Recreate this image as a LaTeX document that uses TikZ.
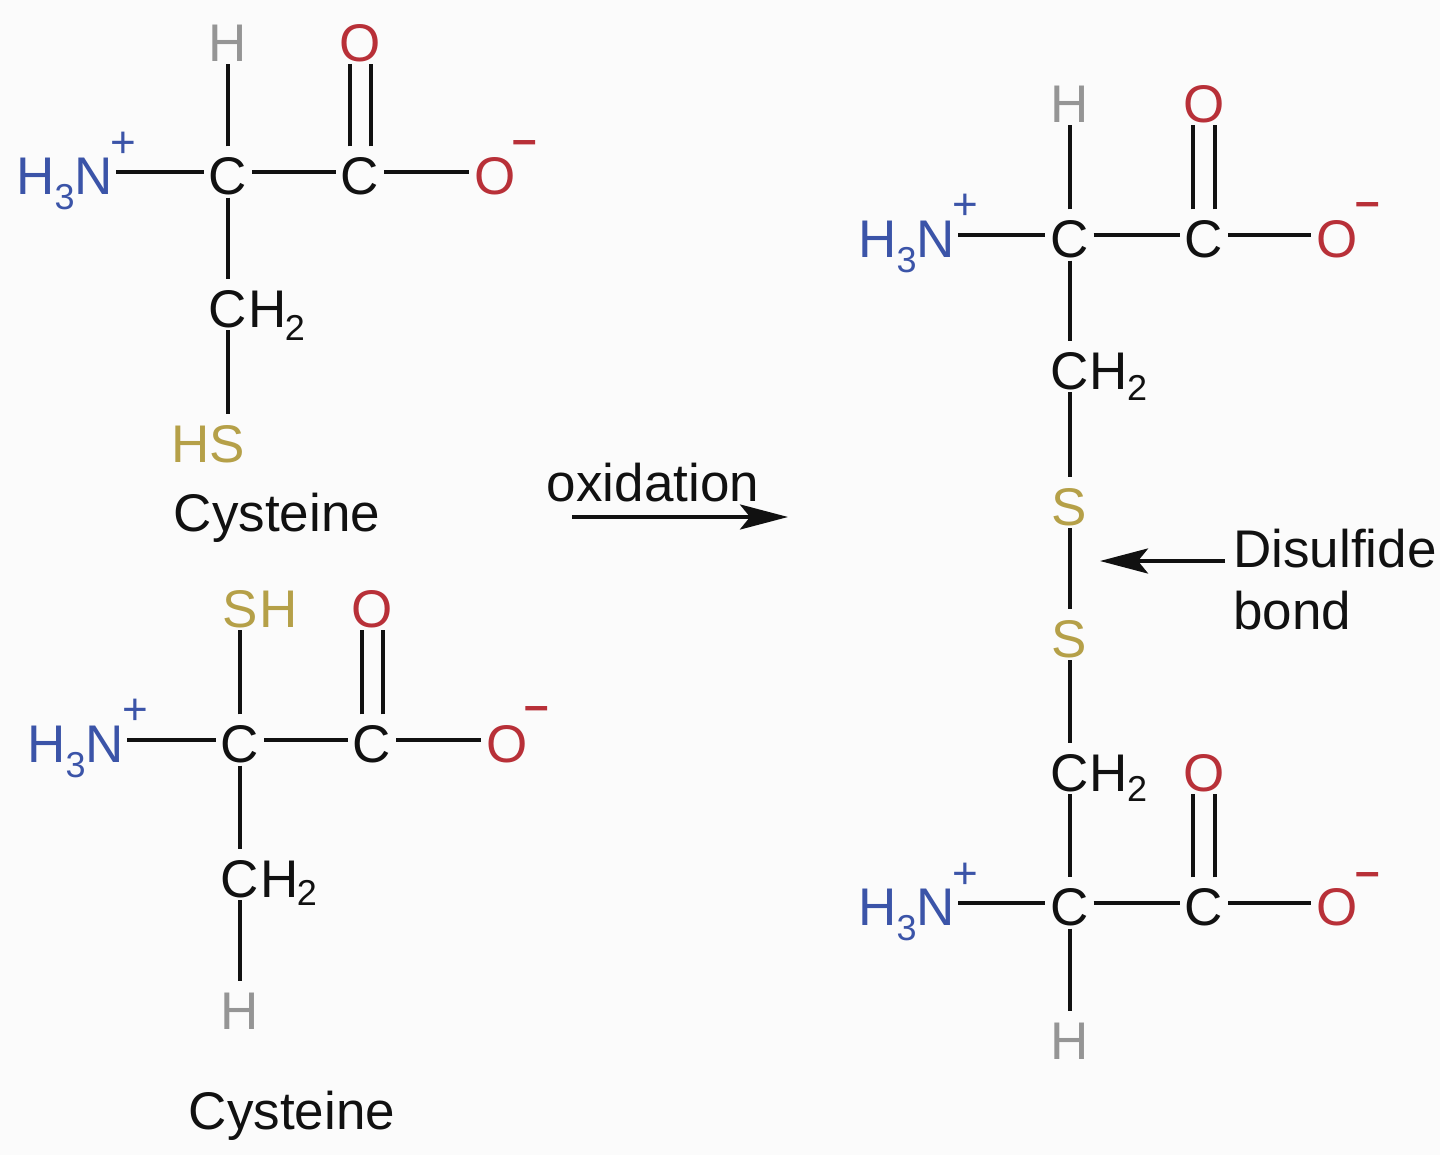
\documentclass[tikz,border=0pt]{standalone}
\usepackage{fontspec}
\setmainfont{Liberation Sans}
\usetikzlibrary{arrows.meta}
\definecolor{nblue}{HTML}{3B54A8}
\definecolor{ored}{HTML}{B83038}
\definecolor{syel}{HTML}{B5A048}
\definecolor{hgrey}{HTML}{959595}
\definecolor{ink}{HTML}{111111}
\definecolor{paper}{HTML}{FBFBFB}
\newcommand{\lowtwo}[1]{\raisebox{-0.28em}{\fontsize{18}{20}\selectfont #1}}
\tikzset{
  atom/.style={inner sep=0pt,outer xsep=2.5pt,outer ysep=1.5pt,text height=22.7pt,text depth=0pt,font=\fontsize{26.5}{30}\selectfont,text=ink},
  nit/.style={atom,text=nblue,anchor=east,outer xsep=1.5pt},
  oxy/.style={atom,text=ored},
  sul/.style={atom,text=syel},
  hyd/.style={atom,text=hgrey},
  chgp/.style={inner sep=0pt,font=\fontsize{22}{24}\selectfont,text=nblue},
  chgm/.style={inner sep=0pt,font=\fontsize{22}{24}\selectfont\bfseries,text=ored},
  sub2/.style={inner sep=0pt,font=\fontsize{18}{20}\selectfont,text=ink},
  lbl/.style={inner sep=0pt,font=\fontsize{26.5}{30}\selectfont,text=ink},
  bond/.style={line width=2pt,draw=ink},
  rxn/.style={line width=2pt,draw=ink,-{Stealth[length=24pt,width=12.5pt,inset=5pt]}},
}
\begin{document}
\begin{tikzpicture}[x=0.5pt,y=-0.5pt]
\useasboundingbox (0,0) rectangle (1440,1155);
\fill[paper] (0,0) rectangle (1440,1155);
% Molecule 1
\node[atom] (a1c) at (228,172) {C};
\node[atom] (a1k) at (360,172) {C};
\node[oxy] (a1o) at (495,172) {O};
\node[oxy] (a1d) at (360,38.5) {O};
\node[hyd] (a1h) at (228,38.5) {H};
\node[nit] (a1n) at (116,172) {H\lowtwo{3}N};
\node[chgp] (a1p) at (123,145) {+};
\node[chgm] (a1m) at (525,148) {–};
\node[atom] (a1ch) at (228,304.5) {C};
\node[atom] (a1chh) at (268,304.5) {H};
\node[sub2] (a1ch2) at (295,328) {2};
\node[sul] (a1s) at (227,439.5) {S};
\node[sul] (a1sh) at (191,439.5) {H};
\node[lbl] (a1l) at (277,518) {Cysteine};
\draw[bond] (a1n) -- (a1c);
\draw[bond] (a1c) -- (a1k);
\draw[bond] (a1k) -- (a1o);
\draw[bond] (a1c) -- (a1h);
\draw[bond] (a1c) -- (a1ch);
\draw[bond] (a1ch) -- (a1ch|-a1s.north);
\draw[bond] ([xshift=-5.25pt]a1k.north) -- ([xshift=-5.25pt]a1d.south);
\draw[bond] ([xshift=5.25pt]a1k.north) -- ([xshift=5.25pt]a1d.south);
% Molecule 2
\node[atom] (a2c) at (240,740) {C};
\node[atom] (a2k) at (372,740) {C};
\node[oxy] (a2o) at (507,740) {O};
\node[oxy] (a2d) at (372,604.5) {O};
\node[sul] (a2s) at (240,604.5) {S};
\node[sul] (a2sh) at (279,604.5) {H};
\node[nit] (a2n) at (127,740) {H\lowtwo{3}N};
\node[chgp] (a2p) at (135,712) {+};
\node[chgm] (a2m) at (537,714) {–};
\node[atom] (a2ch) at (240,874.5) {C};
\node[atom] (a2chh) at (280,874.5) {H};
\node[sub2] (a2ch2) at (307,893) {2};
\node[hyd] (a2h) at (240,1006.5) {H};
\node[lbl] (a2l) at (292,1116) {Cysteine};
\draw[bond] (a2n) -- (a2c);
\draw[bond] (a2c) -- (a2k);
\draw[bond] (a2k) -- (a2o);
\draw[bond] (a2c) -- (a2s);
\draw[bond] (a2c) -- (a2ch);
\draw[bond] (a2ch) -- (a2h);
\draw[bond] ([xshift=-5.25pt]a2k.north) -- ([xshift=-5.25pt]a2d.south);
\draw[bond] ([xshift=5.25pt]a2k.north) -- ([xshift=5.25pt]a2d.south);
% Reaction arrow
\node[lbl] (ox) at (653,483) {oxidation};
\coordinate (oxa) at (572,517);
\coordinate (oxb) at (788,517);
\draw[rxn] (oxa) -- (oxb);
% Molecule 3 top
\node[atom] (b1c) at (1069.5,235) {C};
\node[atom] (b1k) at (1204,235) {C};
\node[oxy] (b1o) at (1337,235) {O};
\node[oxy] (b1d) at (1204,99.5) {O};
\node[hyd] (b1h) at (1069.5,99.5) {H};
\node[nit] (b1n) at (958,235) {H\lowtwo{3}N};
\node[chgp] (b1p) at (965,207) {+};
\node[chgm] (b1m) at (1368,210) {–};
\node[atom] (b1ch) at (1069.5,366.5) {C};
\node[atom] (b1chh) at (1109,366.5) {H};
\node[sub2] (b1ch2) at (1137,388) {2};
\node[sul] (s1) at (1069.5,502.5) {S};
\node[sul] (s2) at (1069.5,634.5) {S};
\draw[bond] (b1n) -- (b1c);
\draw[bond] (b1c) -- (b1k);
\draw[bond] (b1k) -- (b1o);
\draw[bond] (b1c) -- (b1h);
\draw[bond] (b1c) -- (b1ch);
\draw[bond] (b1ch) -- (s1);
\draw[bond] (s1) -- (s2);
\draw[bond] ([xshift=-5.5pt]b1k.north) -- ([xshift=-5.5pt]b1d.south);
\draw[bond] ([xshift=5.5pt]b1k.north) -- ([xshift=5.5pt]b1d.south);
% Molecule 3 bottom
\node[atom] (b2ch) at (1069.5,768.5) {C};
\node[atom] (b2chh) at (1109,768.5) {H};
\node[sub2] (b2ch2) at (1137,789) {2};
\node[atom] (b2c) at (1069.5,903) {C};
\node[atom] (b2k) at (1204,903) {C};
\node[oxy] (b2o) at (1337,903) {O};
\node[oxy] (b2d) at (1204,768.5) {O};
\node[hyd] (b2h) at (1069.5,1036.5) {H};
\node[nit] (b2n) at (958,903) {H\lowtwo{3}N};
\node[chgp] (b2p) at (965,876) {+};
\node[chgm] (b2m) at (1368,879) {–};
\draw[bond] (s2) -- (b2ch);
\draw[bond] (b2ch) -- (b2c);
\draw[bond] (b2n) -- (b2c);
\draw[bond] (b2c) -- (b2k);
\draw[bond] (b2k) -- (b2o);
\draw[bond] (b2c) -- (b2h);
\draw[bond] ([xshift=-5.5pt]b2k.north) -- ([xshift=-5.5pt]b2d.south);
\draw[bond] ([xshift=5.5pt]b2k.north) -- ([xshift=5.5pt]b2d.south);
% Disulfide label
\node[lbl,anchor=west] (dl1) at (1233,549) {Disulfide};
\node[lbl,anchor=west] (dl2) at (1233,611) {bond};
\coordinate (dsa) at (1225,561);
\coordinate (dsb) at (1100,561);
\draw[rxn] (dsa) -- (dsb);
\end{tikzpicture}
\end{document}
